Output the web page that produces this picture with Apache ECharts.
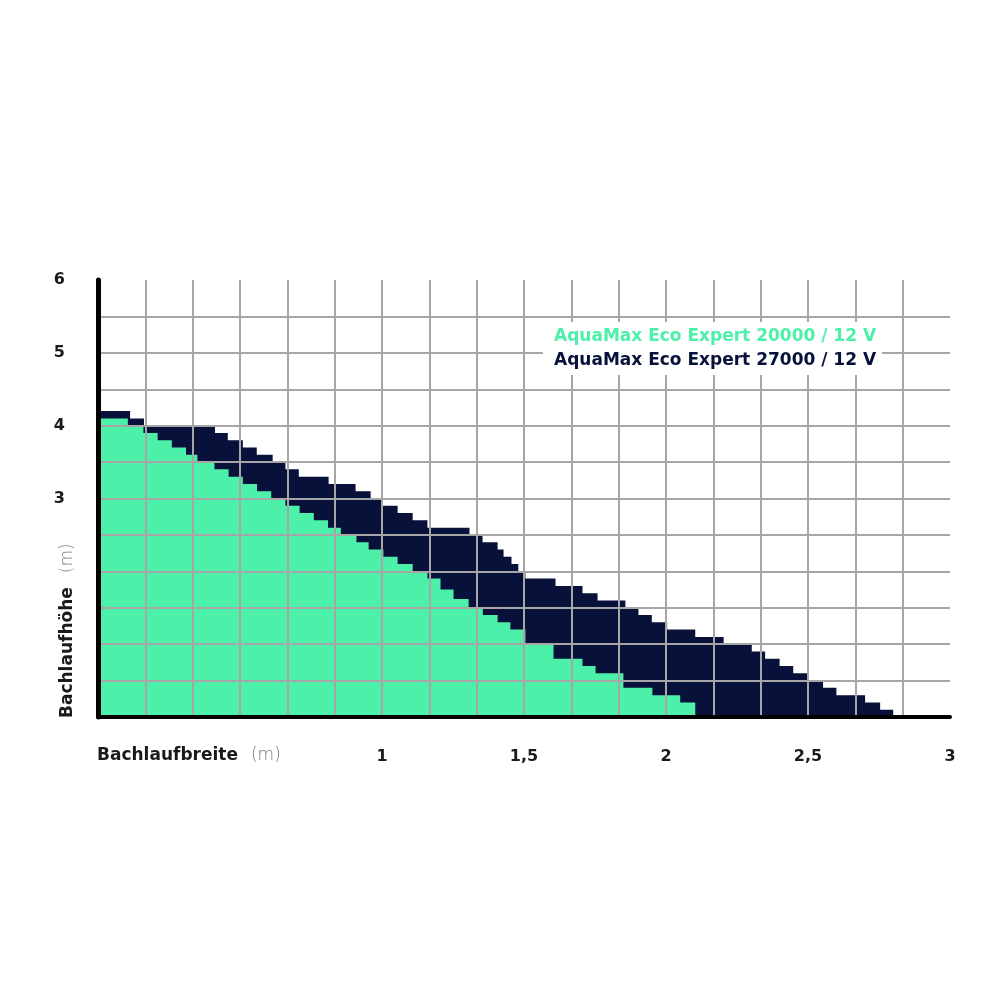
<!DOCTYPE html>
<html>
<head>
<meta charset="utf-8">
<script src="https://cdn.jsdelivr.net/npm/echarts@6/dist/echarts.min.js"></script>
<style>html,body{margin:0;padding:0;background:#fff;}#c{width:1000px;height:1000px;}</style>
</head>
<body>
<div id="c"></div>
<script>
// Series names
const seriesNames = ['AquaMax Eco Expert 20000 / 12 V', 'AquaMax Eco Expert 27000 / 12 V'];

// AquaMax Eco Expert 20000 (green): step start widths (m) and heights (m)
const greenX = [0, 0.105, 0.16, 0.21, 0.26, 0.31, 0.35, 0.41, 0.46, 0.51, 0.56, 0.61, 0.66, 0.71, 0.76, 0.81, 0.855, 0.91, 0.953, 1.005, 1.055, 1.108, 1.16, 1.206, 1.252, 1.305, 1.355, 1.407, 1.452, 1.505, 1.604, 1.706, 1.752, 1.85, 1.952, 2.05];
const greenY = [4.1, 4.0, 3.9, 3.8, 3.7, 3.6, 3.5, 3.4, 3.3, 3.2, 3.1, 3.0, 2.9, 2.8, 2.7, 2.6, 2.5, 2.4, 2.3, 2.2, 2.1, 2.0, 1.9, 1.75, 1.62, 1.5, 1.4, 1.3, 1.2, 1.0, 0.8, 0.7, 0.6, 0.4, 0.3, 0.2];
const greenEnd = 2.103;

// AquaMax Eco Expert 27000 (dark): step start widths (m) and heights (m)
const darkX = [0, 0.113, 0.162, 0.412, 0.457, 0.51, 0.559, 0.615, 0.66, 0.707, 0.812, 0.907, 0.96, 1.002, 1.055, 1.108, 1.16, 1.308, 1.354, 1.407, 1.428, 1.456, 1.48, 1.505, 1.611, 1.706, 1.759, 1.857, 1.903, 1.95, 2.004, 2.103, 2.203, 2.302, 2.349, 2.4, 2.448, 2.5, 2.553, 2.6, 2.701, 2.754];
const darkY = [4.2, 4.1, 4.0, 3.9, 3.8, 3.7, 3.6, 3.5, 3.4, 3.3, 3.2, 3.1, 3.0, 2.9, 2.8, 2.7, 2.6, 2.5, 2.4, 2.3, 2.2, 2.1, 2.0, 1.9, 1.8, 1.7, 1.6, 1.5, 1.4, 1.3, 1.2, 1.1, 1.0, 0.9, 0.8, 0.7, 0.6, 0.5, 0.4, 0.3, 0.2, 0.1];
const darkEnd = 2.8;

// Tick labels
const xTickValues = [1, 1.5, 2, 2.5, 3];
const xTickLabels = ['1', '1,5', '2', '2,5', '3'];
const yTickValues = [3, 4, 5, 6];
const yTickLabels = ['3', '4', '5', '6'];
// vertical grid: 18 columns of 1/6 m over 0..3 m
const xGridColumns = 18;

const GREEN = '#4cf0a9';
const DARK = '#07113a';

function stepData(xs, ys, end) {
  const d = xs.map((x, i) => [x, ys[i]]);
  d.push([end, ys[ys.length - 1]]);
  d.push([end, 0]);
  return d;
}

const chart = echarts.init(document.getElementById('c'), null, {renderer: 'canvas'});
const F = '"DejaVu Sans", sans-serif';

chart.setOption({
  animation: false,
  backgroundColor: '#fff',
  grid: {left: 98, right: 50, top: 280, bottom: 283, containLabel: false},
  legend: {
    data: [
      {name: seriesNames[0], textStyle: {color: GREEN}},
      {name: seriesNames[1], textStyle: {color: DARK}}
    ],
    orient: 'vertical',
    left: 543, top: 322,
    icon: 'none', itemWidth: 0, itemHeight: 10, itemGap: 7,
    padding: [6, 6, 6, 6],
    backgroundColor: '#fff',
    selectedMode: false,
    z: 10,
    textStyle: {fontFamily: F, fontWeight: 'bold', fontSize: 17}
  },
  xAxis: [
    {
      // grid columns (sixths of a metre)
      type: 'value', min: 0, max: xGridColumns, interval: 1, z: 5,
      axisLine: {show: true, onZero: false, lineStyle: {color: '#000', width: 4}},
      axisTick: {show: false},
      axisLabel: {show: false},
      splitLine: {show: true, showMaxLine: false, lineStyle: {color: '#a6a6a6', width: 2}}
    },
    {
      type: 'value', min: 0, max: 3, interval: 0.5, position: 'bottom', z: 5,
      axisLine: {show: false}, axisTick: {show: false}, splitLine: {show: false},
      axisLabel: {
        show: true, margin: 32, showMaxLabel: true, showMinLabel: true,
        color: '#1a1a1a', fontFamily: F, fontWeight: 'bold', fontSize: 16,
        formatter: v => { const i = xTickValues.findIndex(t => Math.abs(t - v) < 1e-6); return i >= 0 ? xTickLabels[i] : ''; }
      }
    }
  ],
  yAxis: {
    type: 'value', min: 0, max: 6, interval: 0.5, z: 5,
    axisLine: {show: true, onZero: false, lineStyle: {color: '#000', width: 5}},
    axisTick: {show: false},
    splitLine: {show: true, showMaxLine: false, lineStyle: {color: '#a6a6a6', width: 2}},
    axisLabel: {
      show: true, margin: 33, showMaxLabel: true,
      color: '#1a1a1a', fontFamily: F, fontWeight: 'bold', fontSize: 16,
      formatter: v => { const i = yTickValues.findIndex(t => Math.abs(t - v) < 1e-6); return i >= 0 ? yTickLabels[i] : ''; }
    }
  },
  series: [
    {
      name: seriesNames[1], type: 'line', step: 'end', symbol: 'none', z: 2,
      xAxisIndex: 1,
      lineStyle: {width: 0, color: DARK}, itemStyle: {color: DARK},
      areaStyle: {color: DARK, opacity: 1},
      data: stepData(darkX, darkY, darkEnd)
    },
    {
      name: seriesNames[0], type: 'line', step: 'end', symbol: 'none', z: 3,
      xAxisIndex: 1,
      lineStyle: {width: 0, color: GREEN}, itemStyle: {color: GREEN},
      areaStyle: {color: GREEN, opacity: 1},
      data: stepData(greenX, greenY, greenEnd)
    }
  ],
  graphic: [
    {
      type: 'text', x: 97, y: 756, z: 10,
      style: {
        text: '{a|Bachlaufbreite}{b|(m)}',
        verticalAlign: 'middle',
        rich: {
          a: {fontFamily: F, fontWeight: 'bold', fontSize: 17, fill: '#1a1a1a'},
          b: {fontFamily: F, fontWeight: 300, fontSize: 17, fill: '#7a7a7a', padding: [0, 0, 0, 13]}
        }
      }
    },
    {
      type: 'text', x: 68, y: 718, rotation: Math.PI / 2, z: 10,
      style: {
        text: '{a|Bachlaufhöhe}{b|(m)}',
        align: 'left', verticalAlign: 'middle',
        rich: {
          a: {fontFamily: F, fontWeight: 'bold', fontSize: 17, fill: '#1a1a1a'},
          b: {fontFamily: F, fontWeight: 300, fontSize: 17, fill: '#7a7a7a', padding: [0, 0, 0, 14]}
        }
      }
    }
  ]
});
</script>
</body>
</html>
